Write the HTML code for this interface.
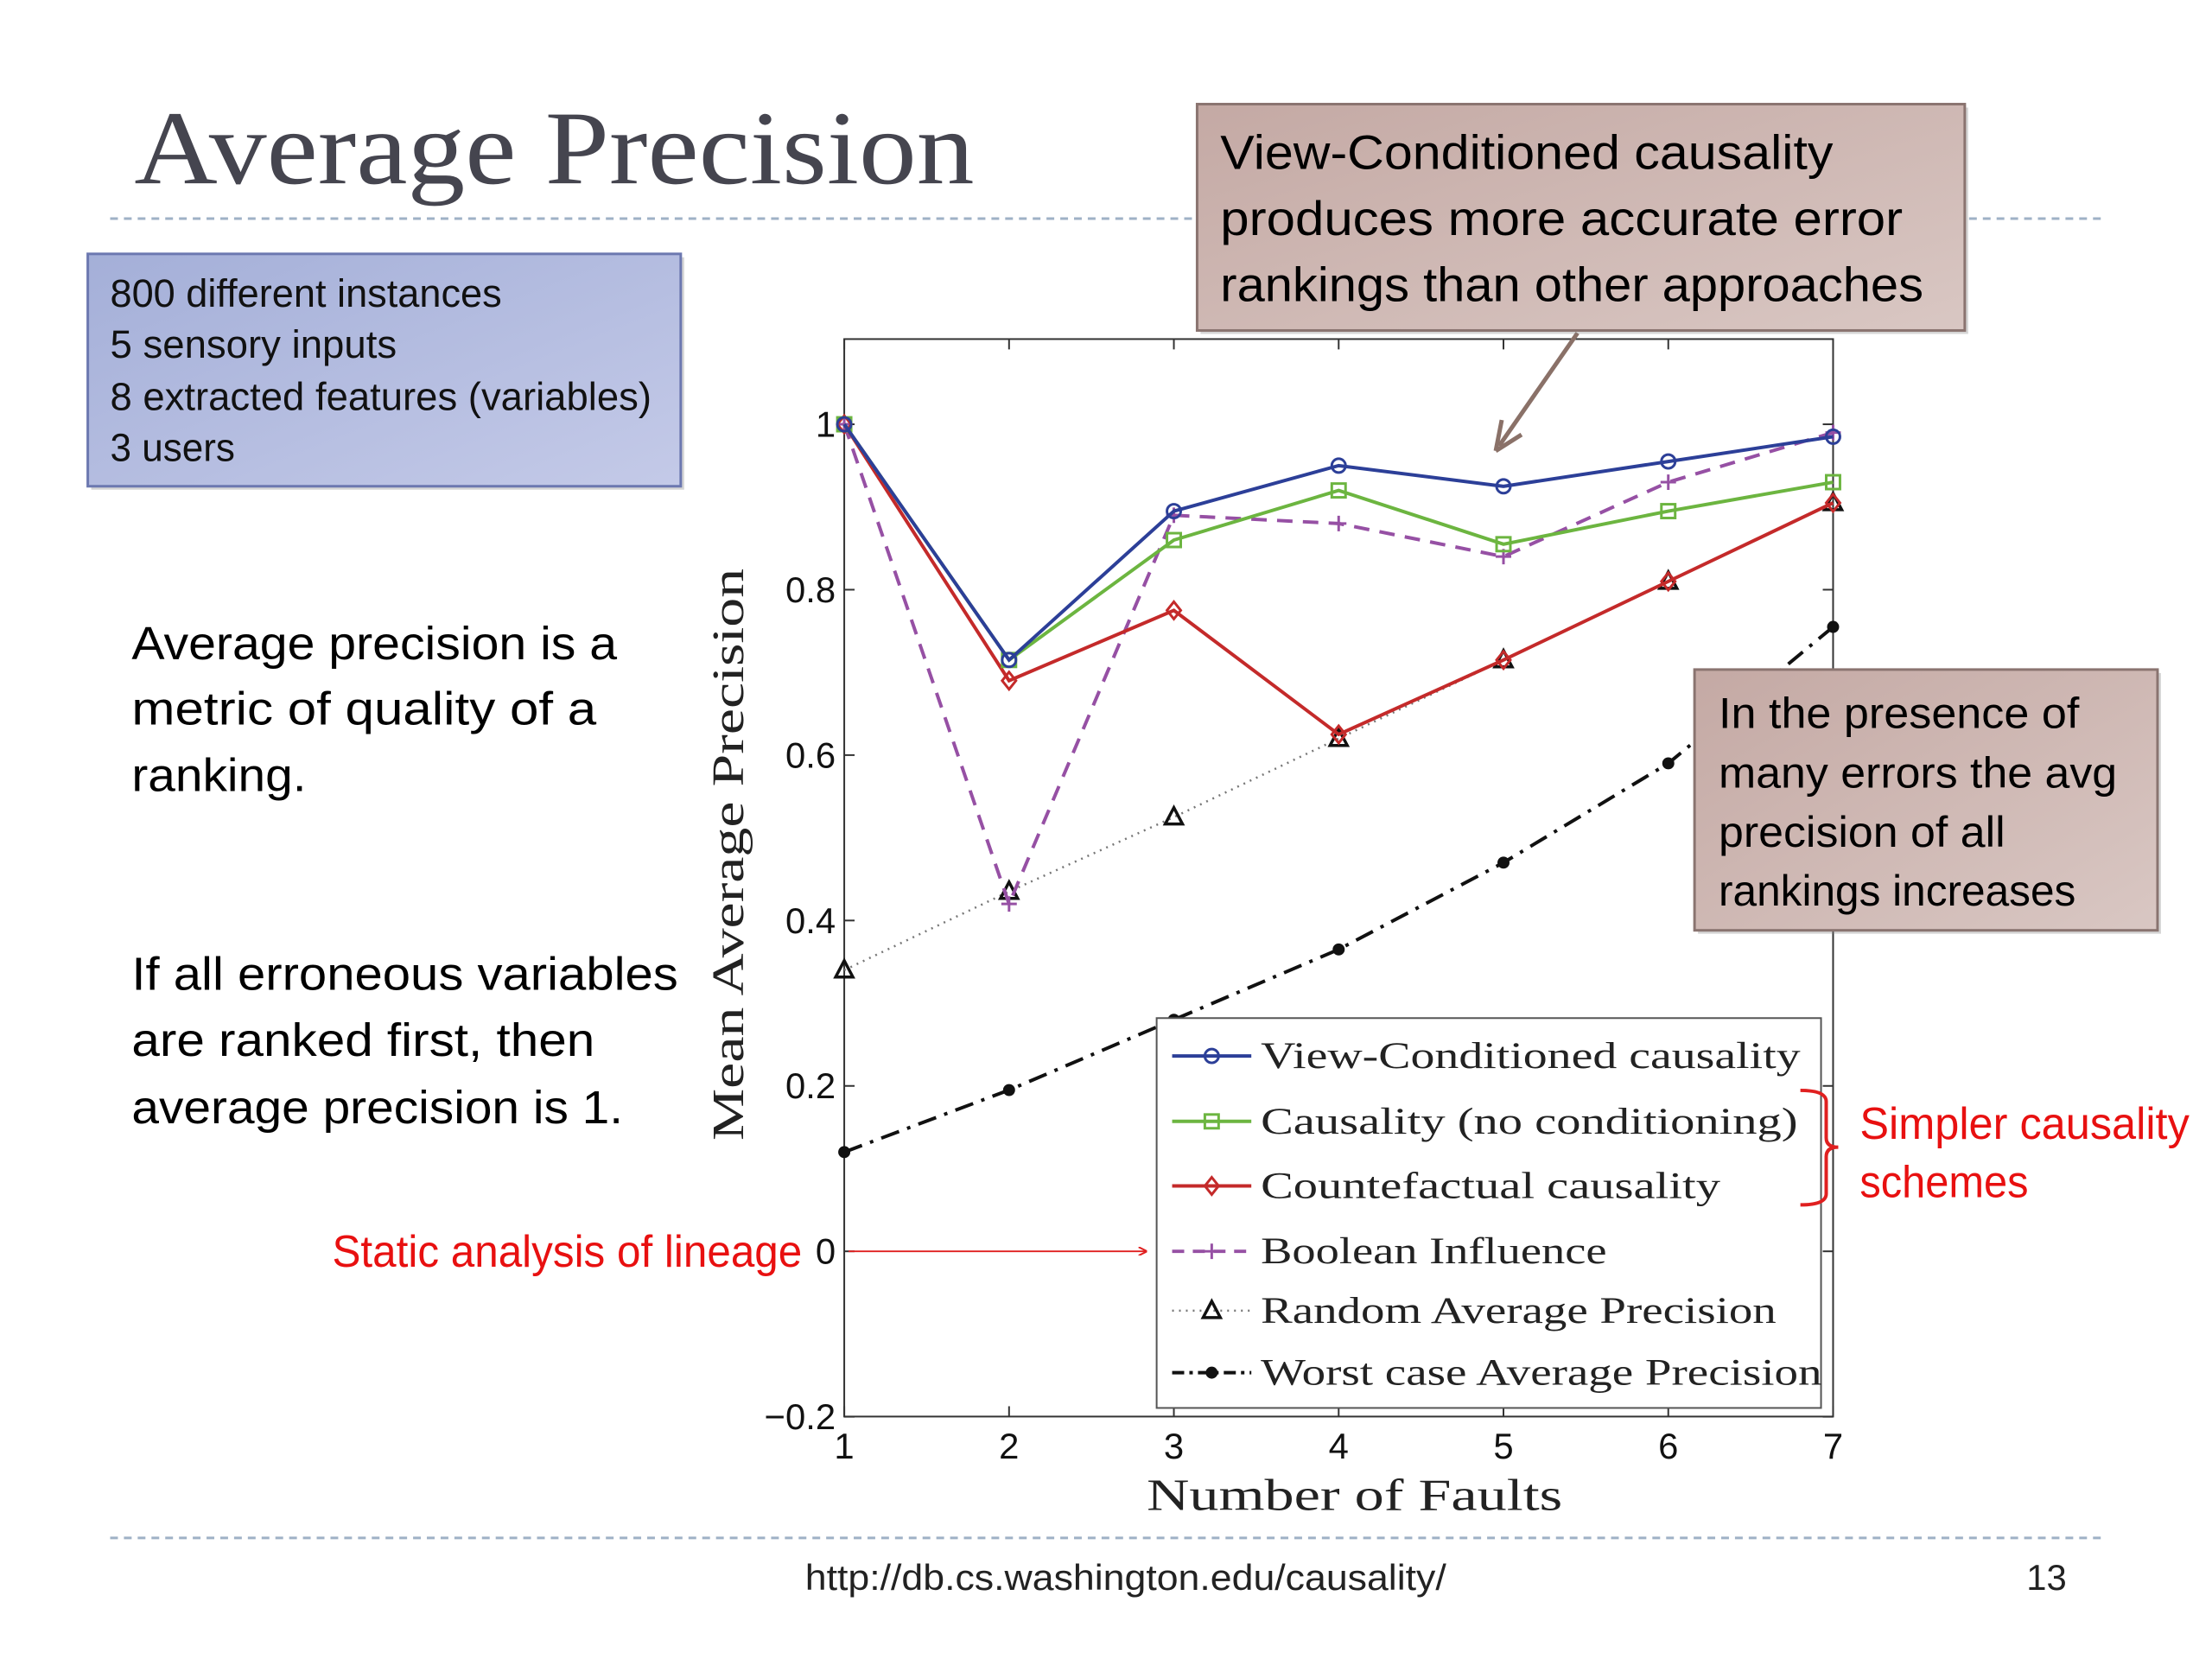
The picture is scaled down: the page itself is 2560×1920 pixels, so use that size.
<!DOCTYPE html>
<html><head><meta charset="utf-8"><style>
html,body{margin:0;padding:0;background:#fff;}
svg{display:block;}
.sans{font-family:"Liberation Sans",sans-serif;}
.serif{font-family:"Liberation Serif",serif;}
</style></head><body>
<svg id="s" width="2560" height="1920" viewBox="0 0 2560 1920" xmlns="http://www.w3.org/2000/svg">
<defs>
<linearGradient id="gb" x1="0" y1="0" x2="1" y2="1"><stop offset="0" stop-color="#a4afd8"/><stop offset="1" stop-color="#c4cae8"/></linearGradient>
<linearGradient id="gr" x1="0" y1="0" x2="1" y2="1"><stop offset="0" stop-color="#c4a9a4"/><stop offset="1" stop-color="#d9c7c3"/></linearGradient>
<marker id="ah" markerWidth="10" markerHeight="10" refX="9" refY="5" orient="auto" markerUnits="userSpaceOnUse"><path d="M0,0 L10,5 L0,10" fill="none" stroke="#e02020" stroke-width="2"/></marker>
</defs>
<g transform="scale(0.996)">
<text x="156" y="213" class="serif" font-size="122" fill="#45454f" textLength="976" lengthAdjust="spacingAndGlyphs">Average Precision</text>
<line x1="128" y1="254" x2="2445" y2="254" stroke="#9fb1c6" stroke-width="3" stroke-dasharray="9,7"/>
<line x1="128" y1="1787" x2="2445" y2="1787" stroke="#9fb1c6" stroke-width="3" stroke-dasharray="9,7"/>

<g>
<rect x="106" y="299" width="689" height="270" fill="#888" opacity="0.35"/>
<rect x="102" y="295" width="689" height="270" fill="url(#gb)" stroke="#6c78b0" stroke-width="3"/>
<g class="sans" font-size="46" fill="#111" dominant-baseline="central">
<text x="128" y="341" textLength="455" lengthAdjust="spacingAndGlyphs">800 different instances</text>
<text x="128" y="400" textLength="333" lengthAdjust="spacingAndGlyphs">5 sensory inputs</text>
<text x="128" y="461" textLength="629" lengthAdjust="spacingAndGlyphs">8 extracted features (variables)</text>
<text x="128" y="520" textLength="145" lengthAdjust="spacingAndGlyphs">3 users</text>
</g></g>

<g class="sans" font-size="54" fill="#000" dominant-baseline="central">
<text x="153" y="748" textLength="564" lengthAdjust="spacingAndGlyphs">Average precision is a</text>
<text x="153" y="824" textLength="540" lengthAdjust="spacingAndGlyphs">metric of quality of a</text>
<text x="153" y="901" textLength="203" lengthAdjust="spacingAndGlyphs">ranking.</text>
<text x="153" y="1132" textLength="635" lengthAdjust="spacingAndGlyphs">If all erroneous variables</text>
<text x="153" y="1209" textLength="538" lengthAdjust="spacingAndGlyphs">are ranked first, then</text>
<text x="153" y="1287" textLength="571" lengthAdjust="spacingAndGlyphs">average precision is 1.</text>
</g>

<g id="chart"></g>

<g>
<line x1="1833" y1="387" x2="1742" y2="518" stroke="#8a7168" stroke-width="5"/>
<path d="M1738,524 L1745,488 M1738,524 L1768,505" stroke="#8a7168" stroke-width="5" fill="none"/>
<rect x="1395" y="125" width="892" height="263" fill="#888" opacity="0.35"/>
<rect x="1391" y="121" width="892" height="263" fill="url(#gr)" stroke="#8a7470" stroke-width="3"/>
<g class="sans" font-size="56" fill="#000" dominant-baseline="central">
<text x="1418" y="177" textLength="712" lengthAdjust="spacingAndGlyphs">View-Conditioned causality</text>
<text x="1418" y="254" textLength="793" lengthAdjust="spacingAndGlyphs">produces more accurate error</text>
<text x="1418" y="331" textLength="817" lengthAdjust="spacingAndGlyphs">rankings than other approaches</text>
</g></g>

<g>
<rect x="1973" y="782" width="538" height="303" fill="#888" opacity="0.35"/>
<rect x="1969" y="778" width="538" height="303" fill="url(#gr)" stroke="#8a7470" stroke-width="3"/>
<g class="sans" font-size="50" fill="#000" dominant-baseline="central">
<text x="1997" y="829" textLength="419" lengthAdjust="spacingAndGlyphs">In the presence of</text>
<text x="1997" y="898" textLength="463" lengthAdjust="spacingAndGlyphs">many errors the avg</text>
<text x="1997" y="967" textLength="333" lengthAdjust="spacingAndGlyphs">precision of all</text>
<text x="1997" y="1035" textLength="415" lengthAdjust="spacingAndGlyphs">rankings increases</text>
</g></g>

<g>
<path d="M2092,1267 Q2122,1267 2122,1280 L2122,1322 Q2122,1333 2136,1333 Q2122,1333 2122,1344 L2122,1387 Q2122,1400 2092,1400" fill="none" stroke="#e02020" stroke-width="4"/>
<g class="sans" font-size="52" fill="#e81010" dominant-baseline="central">
<text x="2161" y="1305" textLength="383" lengthAdjust="spacingAndGlyphs">Simpler causality</text>
<text x="2161" y="1373" textLength="196" lengthAdjust="spacingAndGlyphs">schemes</text>
</g></g>

<g>
<text x="386" y="1454" class="sans" font-size="52" fill="#e81010" dominant-baseline="central" textLength="546" lengthAdjust="spacingAndGlyphs">Static analysis of lineage</text>
</g>

<text x="1308" y="1833" class="sans" font-size="42" fill="#222" text-anchor="middle" dominant-baseline="central" textLength="745" lengthAdjust="spacingAndGlyphs">http://db.cs.washington.edu/causality/</text>
<text x="2378" y="1833" class="sans" font-size="42" fill="#222" text-anchor="middle" dominant-baseline="central">13</text>
</g>
</svg>
<script>
const categories=[1,2,3,4,5,6,7];
const viewCond=[1,0.715,0.895,0.95,0.925,0.955,0.985];
const causality=[1,0.715,0.86,0.92,0.855,0.895,0.93];
const counterfactual=[1,0.69,0.775,0.625,0.715,0.81,0.905];
const booleanInf=[1,0.42,0.89,0.88,0.84,0.93,0.99];
const randomAP=[0.34,0.435,0.525,0.62,0.715,0.81,0.905];
const worstAP=[0.12,0.195,0.28,0.365,0.47,0.59,0.755];
const yTicks=[-0.2,0,0.2,0.4,0.6,0.8,1];
const yTickLabels=["\u22120.2","0","0.2","0.4","0.6","0.8","1"];
const xTickLabels=["1","2","3","4","5","6","7"];
const legendLabels=["View-Conditioned causality","Causality (no conditioning)","Countefactual causality","Boolean Influence","Random Average Precision","Worst case Average Precision"];

const NS="http://www.w3.org/2000/svg";
const L=981,R=2130,T=394,B=1646,Y0=1454,YU=961;
const X=v=>L+(v-1)*(R-L)/6;
const Y=v=>Y0-v*YU;
const g=document.getElementById('chart');
function mk(tag,attrs,parent){const e=document.createElementNS(NS,tag);for(const k in attrs)e.setAttribute(k,attrs[k]);(parent||g).appendChild(e);return e;}

const frame=mk('rect',{x:L,y:T,width:R-L,height:B-T,fill:'#fff',stroke:'#333','stroke-width':2});


yTicks.forEach((t,i)=>{
  mk('line',{x1:L,y1:Y(t),x2:L+12,y2:Y(t),stroke:'#333','stroke-width':2});
  mk('line',{x1:R,y1:Y(t),x2:R-12,y2:Y(t),stroke:'#333','stroke-width':2});
  const tx=mk('text',{x:L-10,y:Y(t),'font-size':42,'text-anchor':'end','dominant-baseline':'central',class:'sans',fill:'#111'});
  tx.textContent=yTickLabels[i];
  
  
});
categories.forEach((c,i)=>{
  mk('line',{x1:X(c),y1:B,x2:X(c),y2:B-12,stroke:'#333','stroke-width':2});
  mk('line',{x1:X(c),y1:T,x2:X(c),y2:T+12,stroke:'#333','stroke-width':2});
  const tx=mk('text',{x:X(c),y:1680,'font-size':42,'text-anchor':'middle','dominant-baseline':'central',class:'sans',fill:'#111'});
  tx.textContent=xTickLabels[i];
  
  
});
const xt=mk('text',{x:1574,y:1738,'font-size':52,'text-anchor':'middle','dominant-baseline':'central',class:'serif',fill:'#222',textLength:483,lengthAdjust:'spacingAndGlyphs'});
xt.textContent='Number of Faults';


const yt=mk('text',{x:0,y:0,'font-size':52,'text-anchor':'middle','dominant-baseline':'central',class:'serif',fill:'#222',textLength:665,lengthAdjust:'spacingAndGlyphs',transform:'translate(847,993) rotate(-90)'});
yt.textContent='Mean Average Precision';



function marker(type,x,y,color,parent){
  const p=parent||g;
  if(type==='o')mk('circle',{cx:x,cy:y,r:8,fill:'none',stroke:color,'stroke-width':3},p);
  else if(type==='s')mk('rect',{x:x-8,y:y-8,width:16,height:16,fill:'none',stroke:color,'stroke-width':3},p);
  else if(type==='d')mk('path',{d:`M${x},${y-10}L${x+8},${y}L${x},${y+10}L${x-8},${y}Z`,fill:'none',stroke:color,'stroke-width':3},p);
  else if(type==='+')mk('path',{d:`M${x-9},${y}H${x+9}M${x},${y-9}V${y+9}`,stroke:color,'stroke-width':3},p);
  else if(type==='^')mk('path',{d:`M${x},${y-11}L${x+10},${y+8}L${x-10},${y+8}Z`,fill:'none',stroke:'#111','stroke-width':3.5},p);
  else if(type==='.')mk('circle',{cx:x,cy:y,r:7,fill:'#111'},p);
}
const series=[
 {name:'series-worst-case',data:worstAP,color:'#111',dash:'22,10,4,10',m:'.',w:4},
 {name:'series-random',data:randomAP,color:'#777',dash:'2,6',m:'^',w:2.5},
 {name:'series-boolean-influence',data:booleanInf,color:'#9650a4',dash:'18,12',m:'+',w:4},
 {name:'series-counterfactual',data:counterfactual,color:'#c42a2a',dash:'',m:'d',w:4},
 {name:'series-causality',data:causality,color:'#6cb540',dash:'',m:'s',w:4},
 {name:'series-view-conditioned',data:viewCond,color:'#2c3f98',dash:'',m:'o',w:4}
];
const order=[5,4,3,2,1,0];
series.forEach(s=>{
  const sg=mk('g',{});
  
  
  const pts=categories.map((c,i)=>X(c)+','+Y(s.data[i])).join(' ');
  const a={points:pts,fill:'none',stroke:s.color,'stroke-width':s.w};
  if(s.dash)a['stroke-dasharray']=s.dash;
  mk('polyline',a,sg);
  categories.forEach((c,i)=>marker(s.m,X(c),Y(s.data[i]),s.color,sg));
});
const lg=mk('g',{});


mk('rect',{x:1344,y:1183,width:772,height:453,fill:'#fff',stroke:'#555','stroke-width':2},lg);
const rowsY=[1227,1303,1378,1454,1523,1595];
order.forEach((si,r)=>{
  const s=series[si];
  const e=mk('g',{},lg);
  
  
  const a={x1:1362,y1:rowsY[r],x2:1454,y2:rowsY[r],stroke:s.color,'stroke-width':s.w};
  if(s.dash)a['stroke-dasharray']=s.dash==='22,10,4,10'?'14,6,4,6':s.dash==='18,12'?'14,10':s.dash;
  mk('line',a,e);
  marker(s.m,1408,rowsY[r],s.color,e);
  const tx=mk('text',{x:1465,y:rowsY[r],'font-size':44,'dominant-baseline':'central',class:'serif',fill:'#222'},e);
  tx.textContent=legendLabels[r];
});
const ends=[2092,2089,1999,1867,2064,2117];
lg.querySelectorAll('text').forEach((t,i)=>{t.setAttribute('textLength',ends[i]-1465);t.setAttribute('lengthAdjust','spacingAndGlyphs');});
const ar=mk('line',{x1:986,y1:Y(0),x2:1332,y2:Y(0),stroke:'#e02020','stroke-width':2,'marker-end':'url(#ah)'});


</script>
</body></html>
